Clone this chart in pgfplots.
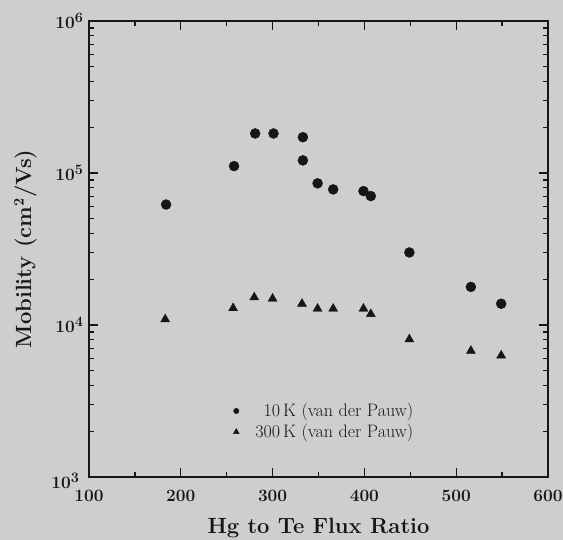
\documentclass[border=0pt]{standalone}
\usepackage{pgfplots}
\pgfplotsset{compat=1.18}
\definecolor{paper}{RGB}{206,206,204}
\definecolor{ink}{RGB}{22,22,22}
\begin{document}
\begin{tikzpicture}
\useasboundingbox (0,0) rectangle (563pt,540pt);
\fill[paper] (0,0) rectangle (563pt,540pt);
\begin{axis}[
  at={(89pt,63pt)}, anchor=south west,
  scale only axis, width=459pt, height=456pt,
  xmin=100, xmax=600, ymin=1e3, ymax=1e6, ymode=log,
  xtick={100,200,...,600}, minor x tick num=1,
  ytick={1e3,1e4,1e5,1e6},
  yticklabels={\raisebox{-12pt}[0pt][0pt]{$10^{3}$}\hspace*{4pt},$10^{4}$,$10^{5}$,$10^{6}$},
  axis line style={ink, line width=1.7pt},
  every tick/.style={ink, line width=1.3pt},
  major tick length=9pt, minor tick length=5pt,
  tick align=inside,
  xticklabel style={font=\fontsize{19}{19}\selectfont\boldmath, text=ink, yshift=-10pt},
  yticklabel style={font=\fontsize{19}{19}\selectfont\boldmath, text=ink, xshift=-2pt},
  xlabel={Hg to Te Flux Ratio}, ylabel={Mobility (cm$^{2}$/Vs)},
  label style={font=\fontsize{22}{22}\selectfont\bfseries\boldmath, text=ink},
  xlabel style={yshift=-10pt},
  ylabel style={yshift=8pt},
  legend style={draw=none, fill=none, at={(0.711,0.166)}, anchor=north east,
    font=\fontsize{18}{20}\selectfont, text=ink, inner sep=0pt,
    row sep=2pt, column sep=14pt},
  legend cell align=right,
]
\addplot[only marks, mark=*, mark size=5pt, ink,
  legend image code/.code={\fill[ink] (0cm,0cm) circle (2.7pt);}]
  coordinates {
  (184,6.2e4) (258,1.11e5) (281,1.82e5) (301,1.82e5) (333,1.72e5)
  (333,1.21e5) (349,8.55e4) (366,7.8e4) (399,7.6e4) (407,7.05e4)
  (449,3.0e4) (516,1.78e4) (549,1.38e4)
};
\addlegendentry{10\,K (van der Pauw)}
\addplot[only marks, mark=triangle*, mark size=5.2pt, ink,
  legend image code/.code={\fill[ink] (0cm,0cm) ++(90:3.4pt) -- ++(-120:5.8pt) -- ++(0:5.8pt) -- cycle;}]
  coordinates {
  (183,1.09e4) (257,1.29e4) (280,1.52e4) (300,1.49e4) (332,1.38e4)
  (349,1.28e4) (366,1.28e4) (399,1.28e4) (407,1.18e4) (449,8.05e3)
  (516,6.76e3) (549,6.3e3)
};
\addlegendentry{300\,K (van der Pauw)}
\end{axis}
\end{tikzpicture}
\end{document}
